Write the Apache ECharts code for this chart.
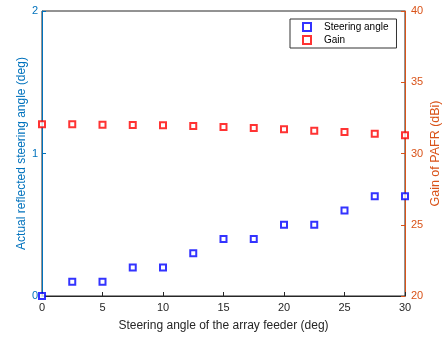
<!DOCTYPE html>
<html><head><meta charset="utf-8">
<script src="https://cdn.jsdelivr.net/npm/echarts@6/dist/echarts.min.js"></script>
<style>html,body{margin:0;padding:0;background:#fff}#c{width:444px;height:338px}</style>
</head><body><div id="c"></div>
<script>
const feederAngles = [0, 2.5, 5, 7.5, 10, 12.5, 15, 17.5, 20, 22.5, 25, 27.5, 30];
const steeringAngle = [0, 0.1, 0.1, 0.2, 0.2, 0.3, 0.4, 0.4, 0.5, 0.5, 0.6, 0.7, 0.7];
const gain = [32.05, 32.05, 32.02, 32.0, 31.98, 31.93, 31.86, 31.79, 31.7, 31.6, 31.51, 31.39, 31.28];
const xTicks = [0, 5, 10, 15, 20, 25, 30];
const leftTicks = [0, 1, 2];
const rightTicks = [20, 25, 30, 35, 40];

const font = 'Liberation Sans, Arial, sans-serif';
const chart = echarts.init(document.getElementById('c'), null, {renderer: 'canvas'});
chart.setOption({
  animation: false,
  backgroundColor: '#fff',
  grid: {left: 42, right: 39, top: 11, bottom: 42, outerBoundsMode: 'none', containLabel: false,
         show: true, borderColor: '#262626', borderWidth: 1, backgroundColor: 'transparent'},
  legend: {
    orient: 'vertical', left: 290, top: 19, itemWidth: 8, itemHeight: 8, itemGap: 3,
    padding: [3, 8, 3, 12], borderColor: '#333', borderWidth: 1, backgroundColor: '#fff',
    textStyle: {fontFamily: font, fontSize: 10, color: '#000', padding: [0, 0, 0, 8]},
    data: ['Steering angle', 'Gain']
  },
  xAxis: {
    type: 'value', min: xTicks[0], max: xTicks[xTicks.length - 1], interval: 5,
    name: 'Steering angle of the array feeder (deg)', nameLocation: 'middle', nameGap: 24,
    nameMoveOverlap: false,
    nameTextStyle: {fontFamily: font, fontSize: 12, color: '#262626'},
    axisLine: {onZero: false, lineStyle: {color: '#262626', width: 1}},
    axisTick: {inside: true, length: 4, lineStyle: {color: '#262626'}},
    axisLabel: {fontFamily: font, fontSize: 11, color: '#262626', margin: 6},
    splitLine: {show: false}
  },
  yAxis: [{
    type: 'value', min: leftTicks[0], max: leftTicks[leftTicks.length - 1], interval: 1, position: 'left',
    name: 'Actual reflected steering angle (deg)', nameLocation: 'middle', nameGap: 14,
    nameMoveOverlap: false,
    nameTextStyle: {fontFamily: font, fontSize: 12, color: '#0072BD'},
    axisLine: {show: true, onZero: false, lineStyle: {color: '#0072BD', width: 1}},
    axisTick: {show: true, inside: true, length: 4, lineStyle: {color: '#0072BD'}},
    axisLabel: {fontFamily: font, fontSize: 11, color: '#0072BD', margin: 4},
    splitLine: {show: false}
  }, {
    type: 'value', min: rightTicks[0], max: rightTicks[rightTicks.length - 1], interval: 5, position: 'right',
    name: 'Gain of PAFR (dBi)', nameLocation: 'middle', nameGap: 24, nameRotate: 90,
    nameMoveOverlap: false,
    nameTextStyle: {fontFamily: font, fontSize: 12.5, color: '#D95319'},
    axisLine: {show: true, onZero: false, lineStyle: {color: '#D95319', width: 1}},
    axisTick: {show: true, inside: true, length: 4, lineStyle: {color: '#D95319'}},
    axisLabel: {fontFamily: font, fontSize: 11, color: '#D95319', margin: 6},
    splitLine: {show: false}
  }],
  series: [{
    name: 'Steering angle', type: 'scatter', yAxisIndex: 0, clip: false,
    symbol: 'emptyRect', symbolSize: 6,
    itemStyle: {color: '#0000FF', borderColor: '#0000FF', borderWidth: 1.5},
    data: feederAngles.map((x, i) => [x, steeringAngle[i]])
  }, {
    name: 'Gain', type: 'scatter', yAxisIndex: 1, clip: false,
    symbol: 'emptyRect', symbolSize: 6,
    itemStyle: {color: '#FF0000', borderColor: '#FF0000', borderWidth: 1.5},
    data: feederAngles.map((x, i) => [x, gain[i]])
  }]
});
</script></body></html>
